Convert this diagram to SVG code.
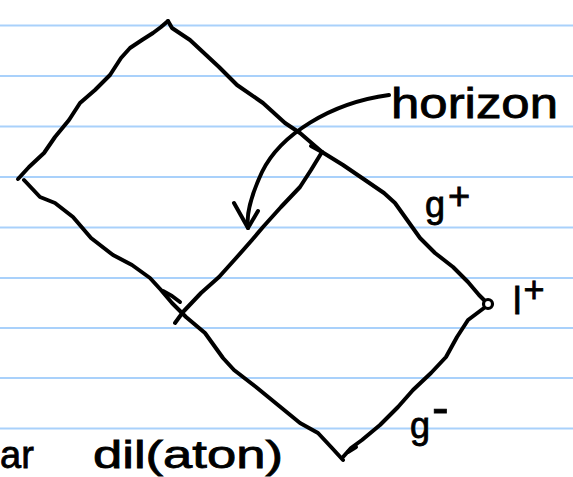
<svg xmlns="http://www.w3.org/2000/svg" width="573" height="477" viewBox="0 0 573 477">
<style>
.rule{stroke:#a9d1fb;stroke-width:2;fill:none}
.ink{stroke:#000;stroke-width:4;fill:none;stroke-linecap:round;stroke-linejoin:round}
.t{font-family:"Liberation Sans","Noto Sans",sans-serif;fill:#000;stroke:#000;stroke-width:0.8}
</style>
<rect width="573" height="477" fill="#fff"/>
<g id="rules">
<line class="rule" x1="0" y1="25.5" x2="573" y2="25.5"/>
<line class="rule" x1="0" y1="76" x2="573" y2="76"/>
<line class="rule" x1="0" y1="126.5" x2="573" y2="126.5"/>
<line class="rule" x1="0" y1="177" x2="573" y2="177"/>
<line class="rule" x1="0" y1="227.5" x2="573" y2="227.5"/>
<line class="rule" x1="0" y1="278" x2="573" y2="278"/>
<line class="rule" x1="0" y1="328" x2="573" y2="328"/>
<line class="rule" x1="0" y1="378" x2="573" y2="378"/>
<line class="rule" x1="0" y1="428.5" x2="573" y2="428.5"/>
</g>
<g id="diagram">
<path class="ink" d="M168,21 L161,27 153,33 142,40 130,48 121,58 110,75 95,90 80,103 69,120 55,137 44,153 29,167 18,179"/>
<path class="ink" d="M168,21 L172,28 190,40 219,67 237,85 263,103 285,123 300,133 322,152 343,165 365,180 384,193 395,203 420,238 435,253 453,267 468,282 479,295 484,300"/>
<path class="ink" d="M484,308 L468,320 457,337 446,357 431,373 413,390 398,407 380,425 362,440 351,448 343,457"/>
<path class="ink" d="M348,452 L356,447"/>
<path class="ink" d="M24,180 L40,197 55,203 73,217 91,238 113,255 132,265 150,278 161,290 172,303 186,317 205,333 223,358 234,370 256,387 278,405 300,423 318,433 332,448 343,460"/>
<path class="ink" d="M163,291 L172,296 180,302"/>
<path class="ink" d="M322,152 L311,170 300,187 281,207 263,227 252,240 237,257 219,277 201,293 183,312 175,323"/>
<path class="ink" d="M311,146 L322,152"/>
<circle cx="488" cy="304" r="4.5" fill="#fff" stroke="#000" stroke-width="3.2"/>
</g>
<g id="connectors">
<path class="ink" d="M389,95 C330,103 280,135 262,172 C250,198 246,215 248,228"/>
<path class="ink" d="M234,203 L248,228 L258,211"/>
</g>
<g id="labels">
<text class="t" x="391" y="118" font-size="42" textLength="167" lengthAdjust="spacingAndGlyphs">horizon</text>
<text class="t" x="425" y="217" font-size="36">g<tspan dx="3" dy="-8" font-size="38">+</tspan></text>
<text class="t" x="513" y="314" font-size="38">l<tspan dx="2" dy="-12" font-size="36">+</tspan></text>
<text class="t" x="410" y="438" font-size="36">g<tspan dx="2" dy="-14" font-size="50">-</tspan></text>
<text class="t" x="0" y="468" font-size="38">ar</text>
<text class="t" x="93" y="468" font-size="38" textLength="190" lengthAdjust="spacingAndGlyphs">dil(aton)</text>
</g>
</svg>
